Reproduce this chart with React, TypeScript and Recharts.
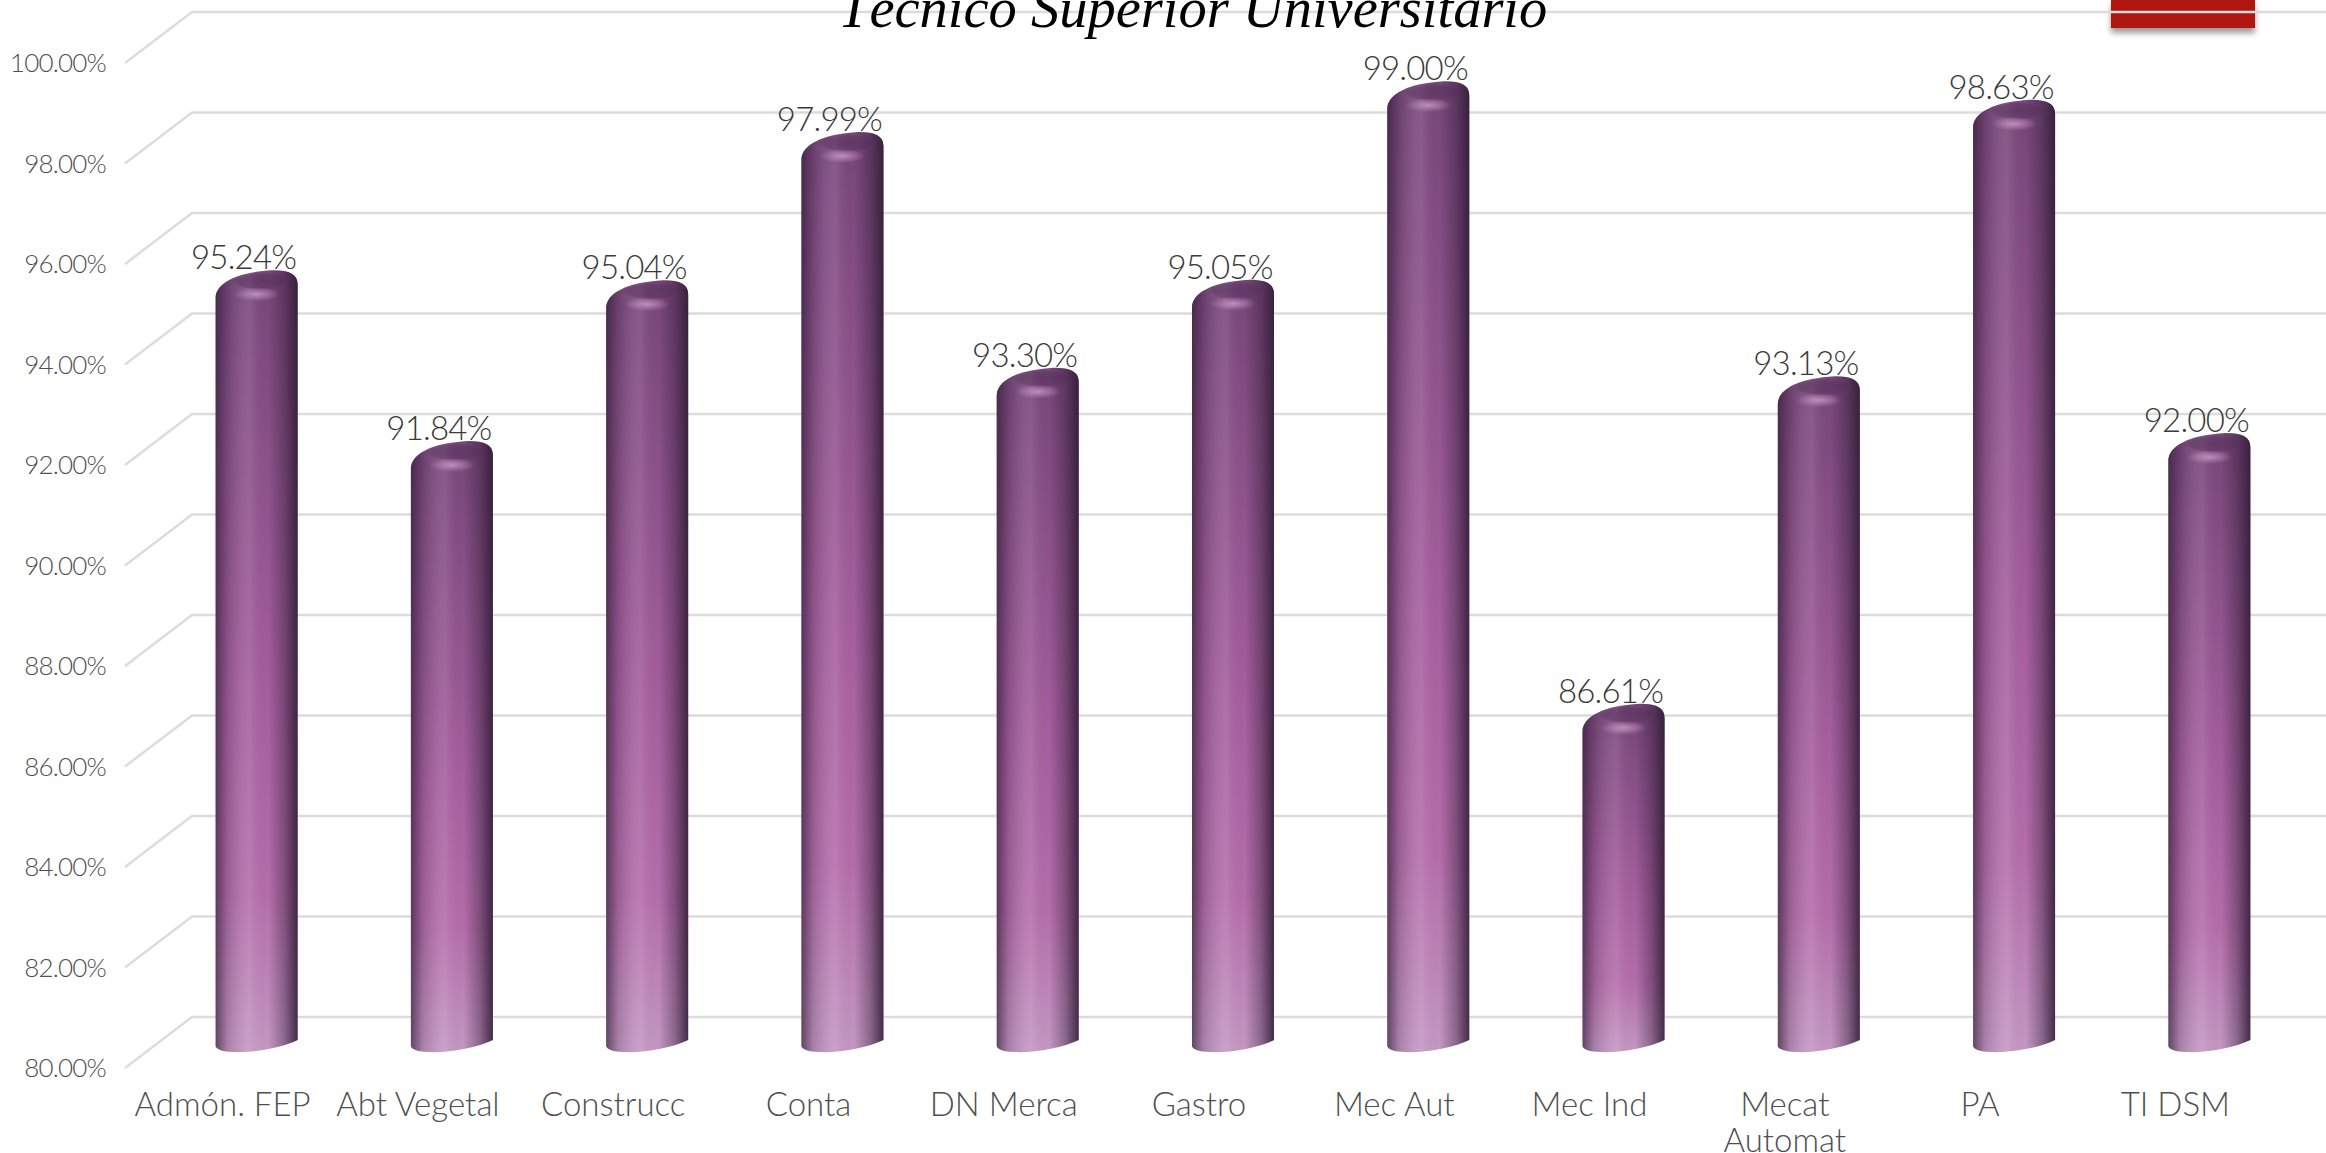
import { Bar, BarChart, CartesianGrid, LabelList, XAxis, YAxis } from "recharts";

const categories = [
  "Admón. FEP",
  "Abt Vegetal",
  "Construcc",
  "Conta",
  "DN Merca",
  "Gastro",
  "Mec Aut",
  "Mec Ind",
  "Mecat\nAutomat",
  "PA",
  "TI DSM",
];
const values = [95.24, 91.84, 95.04, 97.99, 93.3, 95.05, 99.0, 86.61, 93.13, 98.63, 92.0];
const yTicks = [80, 82, 84, 86, 88, 90, 92, 94, 96, 98, 100];

const chartData = categories.map((name, i) => ({ name, value: values[i] }));

const FONT = "Lato, 'Open Sans', sans-serif";
const pct = (v: number) => `${v.toFixed(2)}%`;

// the 3D floor: front tick runs back to the rear wall, then across
function GridLine(props: any) {
  const { x1, y1, index } = props;
  return (
    <path
      key={index}
      d={`M${x1},${y1} L${x1 + 67},${y1 - 51} L2326,${y1 - 51}`}
      fill="none"
      stroke="#dcdcdc"
      strokeWidth={2.5}
    />
  );
}

// bars sit half way into the depth, so shift them off the front plane
function Cylinder(props: any) {
  const { x, y, width, height } = props;
  const l = x + 34;
  const r = l + width;
  const top = y - 32;
  const bottom = y + height - 16;
  const body =
    `M${l},${top + 28} C${l},${top + 13} ${l + width * 0.25},${top + 2} ${l + width * 0.7},${top} ` +
    `C${r - 8},${top} ${r},${top + 4} ${r},${top + 14} ` +
    `L${r},${bottom - 12} C${r - 16},${bottom - 4} ${l + width * 0.45},${bottom + 1} ${l + width * 0.22},${bottom} ` +
    `C${l + 8},${bottom} ${l},${bottom - 3} ${l},${bottom - 6} Z`;
  return (
    <g>
      <path d={body} fill="url(#barBody)" />
      <path d={body} fill="url(#barShade)" />
      <ellipse cx={l + width * 0.55} cy={top + 11} rx={width * 0.36} ry={9} fill="url(#barCap)" />
      <ellipse cx={l + width * 0.5} cy={top + 24} rx={width * 0.28} ry={7} fill="url(#barGlint)" />
    </g>
  );
}

function ValueLabel(props: any) {
  const { x, y, width, value } = props;
  return (
    <text
      x={x + width / 2 + 21}
      y={y - 33}
      textAnchor="middle"
      fontFamily={FONT}
      fontWeight={300}
      fontSize={33}
      letterSpacing={-0.8}
      fill="#3a3a3a"
    >
      {pct(value)}
    </text>
  );
}

function CategoryTick(props: any) {
  const { x, y, payload } = props;
  const lines = String(payload.value).split("\n");
  return (
    <text x={x} y={y} textAnchor="middle" fontFamily={FONT} fontWeight={300} fontSize={33} fill="#4f4f4f">
      {lines.map((line, i) => (
        <tspan key={line} x={x} dy={i === 0 ? 40 : 36}>
          {line}
        </tspan>
      ))}
    </text>
  );
}

function ValueTick(props: any) {
  const { x, y, payload } = props;
  return (
    <text
      x={x}
      y={y}
      dy={9}
      textAnchor="end"
      fontFamily={FONT}
      fontWeight={300}
      fontSize={26}
      letterSpacing={-0.8}
      fill="#4f4f4f"
    >
      {pct(payload.value)}
    </text>
  );
}

export default function App() {
  return (
    <div style={{ position: "absolute", left: 0, top: 0, width: 2326, height: 1153, overflow: "hidden", background: "#fff" }}>
      <div
        style={{
          position: "absolute",
          left: 2111,
          top: 0,
          width: 144,
          height: 28,
          background: "#b01610",
          boxShadow: "0 5px 6px rgba(0,0,0,0.4)",
        }}
      />
      <div style={{ position: "absolute", left: 0, top: 0 }}>
        <BarChart
          width={2326}
          height={1153}
          data={chartData}
          margin={{ top: 63, right: 53, bottom: 55, left: 0 }}
          barCategoryGap="29%"
        >
          <defs>
            <linearGradient id="barBody" x1="0" y1="0" x2="0" y2="1">
              <stop offset="0" stopColor="#774679" />
              <stop offset="0.55" stopColor="#a65f9f" />
              <stop offset="0.8" stopColor="#b56eab" />
              <stop offset="1" stopColor="#c498c3" />
            </linearGradient>
            <linearGradient id="barShade" x1="0" y1="0" x2="1" y2="0">
              <stop offset="0" stopColor="#2d1a33" stopOpacity={0.65} />
              <stop offset="0.14" stopColor="#2d1a33" stopOpacity={0.2} />
              <stop offset="0.42" stopColor="#ffffff" stopOpacity={0.1} />
              <stop offset="0.64" stopColor="#2d1a33" stopOpacity={0} />
              <stop offset="0.84" stopColor="#2d1a33" stopOpacity={0.38} />
              <stop offset="1" stopColor="#2d1a33" stopOpacity={0.85} />
            </linearGradient>
            <radialGradient id="barCap">
              <stop offset="0" stopColor="#4f2d55" stopOpacity={0.55} />
              <stop offset="0.75" stopColor="#4f2d55" stopOpacity={0.4} />
              <stop offset="1" stopColor="#4f2d55" stopOpacity={0} />
            </radialGradient>
            <radialGradient id="barGlint">
              <stop offset="0" stopColor="#c79ac6" stopOpacity={0.85} />
              <stop offset="1" stopColor="#c79ac6" stopOpacity={0} />
            </radialGradient>
          </defs>
          <CartesianGrid vertical={false} horizontal={(p: any) => <GridLine {...p} />} />
          <XAxis
            dataKey="name"
            interval={0}
            axisLine={false}
            tickLine={false}
            tick={<CategoryTick />}
          />
          <YAxis
            domain={[80, 100]}
            ticks={yTicks}
            width={125}
            axisLine={false}
            tickLine={false}
            tickMargin={13}
            tick={<ValueTick />}
          />
          <Bar dataKey="value" isAnimationActive={false} shape={<Cylinder />}>
            <LabelList dataKey="value" content={<ValueLabel />} />
          </Bar>
        </BarChart>
      </div>
      <div
        style={{
          position: "absolute",
          left: 838,
          top: -27,
          width: 704,
          textAlign: "center",
          fontFamily: "'Liberation Serif', serif",
          fontStyle: "italic",
          fontSize: 56.5,
          lineHeight: "70px",
          whiteSpace: "nowrap",
          color: "#000",
        }}
      >
        Técnico Superior Universitario
      </div>
    </div>
  );
}
